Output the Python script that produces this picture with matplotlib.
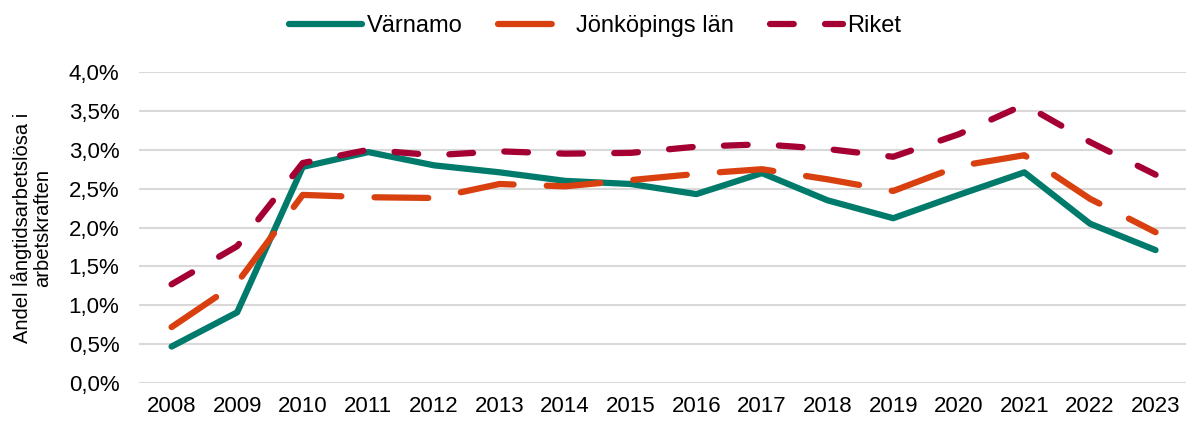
import numpy as np
import matplotlib.pyplot as plt
from matplotlib.ticker import FuncFormatter

years = [str(y) for y in range(2008, 2024)]
varnamo = [0.47, 0.91, 2.78, 2.97, 2.80, 2.71, 2.60, 2.56, 2.43, 2.70, 2.35, 2.12, 2.42, 2.71, 2.05, 1.71]
jonkoping = [0.72, 1.29, 2.42, 2.39, 2.38, 2.56, 2.53, 2.61, 2.69, 2.75, 2.62, 2.47, 2.79, 2.93, 2.37, 1.94]
riket = [1.27, 1.76, 2.83, 3.00, 2.93, 2.98, 2.95, 2.96, 3.04, 3.07, 3.01, 2.91, 3.20, 3.58, 3.10, 2.68]

plt.rcParams['font.family'] = ['Liberation Sans', 'DejaVu Sans']

fig = plt.figure(figsize=(11.86, 4.21), dpi=100)
ax = fig.add_axes([0.117, 0.090, 0.885, 0.739])

x = np.arange(len(years))
lw = 4.5
ax.plot(x, varnamo, color='#007A6A', lw=lw, solid_capstyle='round', solid_joinstyle='round',
        label='Värnamo', zorder=3)
ax.plot(x, jonkoping, color='#D9400F', lw=lw, dashes=(8.6, 5.3), dash_capstyle='round',
        label='Jönköpings län', zorder=4)
ax.plot(x, riket, color='#A50034', lw=lw, dashes=(3.8, 5.0), dash_capstyle='round',
        label='Riket', zorder=5)

ax.set_xlim(-0.5, len(years) - 0.5)
ax.set_ylim(0, 4.0)
ax.set_yticks(np.arange(0, 4.01, 0.5))
ax.yaxis.set_major_formatter(FuncFormatter(lambda v, p: f"{v:.1f}".replace('.', ',') + '%'))
ax.set_xticks(x)
ax.set_xticklabels(years)
ax.tick_params(axis='both', length=0, labelsize=16, colors='#000000')
ax.tick_params(axis='x', pad=9)
ax.tick_params(axis='y', pad=14)
ax.grid(axis='y', color='#D9D9D9', lw=1.5)
ax.set_axisbelow(True)
for s in ax.spines.values():
    s.set_visible(False)

ax.set_ylabel('Andel långtidsarbetslösa i\narbetskraften', fontsize=14.5, linespacing=1.05, labelpad=12)

ax.legend(loc='center', bbox_to_anchor=(0.435, 1.148), ncol=3, frameon=False,
          fontsize=17, handlelength=3.1, columnspacing=1.5, handletextpad=0.2)

fig.savefig('out.png', dpi=100)
